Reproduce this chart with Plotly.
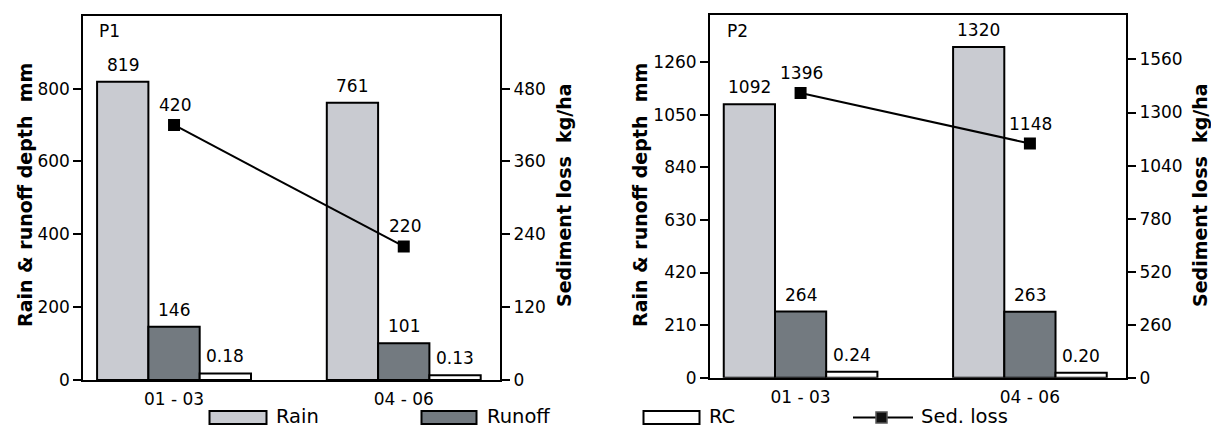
import plotly.graph_objects as go

# ---------------- data ----------------
periods = ["01 - 03", "04 - 06"]
panel_names = ["P1", "P2"]

p1_rain = [819, 761]
p1_runoff = [146, 101]
p1_rc = [0.18, 0.13]
p1_sed = [420, 220]

p2_rain = [1092, 1320]
p2_runoff = [264, 263]
p2_rc = [0.24, 0.20]
p2_sed = [1396, 1148]

p1_left_ticks = [0, 200, 400, 600, 800]
p1_right_ticks = [0, 120, 240, 360, 480]
p2_left_ticks = [0, 210, 420, 630, 840, 1050, 1260]
p2_right_ticks = [0, 260, 520, 780, 1040, 1300, 1560]

legend_names = ["Rain", "Runoff", "RC", "Sed. loss"]
left_title = "Rain & runoff depth\u00a0 mm"
right_title = "Sediment loss\u00a0 kg/ha"

RC_SCALE = 100  # RC drawn on the depth axis as RC x 100

# ---------------- style ----------------
W, H = 1211, 430
FONT = "DejaVu Sans"
C_RAIN = "#C9CBD1"
C_RUNOFF = "#737A80"
C_RC = "#FFFFFF"
BARGAP = 0.33
BW = (1 - BARGAP) / 3


def px(x):
    return x / W


def py(y):
    return 1 - y / H


xs = list(range(len(periods)))

fig = go.Figure()

panels = [
    dict(rain=p1_rain, runoff=p1_runoff, rc=p1_rc, sed=p1_sed,
         xa="x", ya="y", ya2="y2"),
    dict(rain=p2_rain, runoff=p2_runoff, rc=p2_rc, sed=p2_sed,
         xa="x2", ya="y3", ya2="y4"),
]

annotations = []
for p in panels:
    rc_disp = [v * RC_SCALE for v in p["rc"]]
    for vals, col, name in [(p["rain"], C_RAIN, "Rain"),
                            (p["runoff"], C_RUNOFF, "Runoff"),
                            (rc_disp, C_RC, "RC")]:
        fig.add_trace(go.Bar(
            x=xs, y=vals, name=name, xaxis=p["xa"], yaxis=p["ya"],
            marker=dict(color=col, line=dict(color="black", width=2)),
            showlegend=False))
    fig.add_trace(go.Scatter(
        x=xs, y=p["sed"], mode="lines+markers", name="Sed. loss",
        xaxis=p["xa"], yaxis=p["ya2"],
        line=dict(color="black", width=2),
        marker=dict(symbol="square", size=12, color="black"),
        showlegend=False))
    # data labels
    for i in xs:
        for off, val, txt in [(-BW, p["rain"][i], str(p["rain"][i])),
                              (0, p["runoff"][i], str(p["runoff"][i])),
                              (BW, p["rc"][i] * RC_SCALE, f"{p['rc'][i]:.2f}")]:
            annotations.append(dict(
                x=i + off, y=val, xref=p["xa"], yref=p["ya"], text=txt,
                showarrow=False, xanchor="center", yanchor="middle",
                yshift=17,
                font=dict(family=FONT, size=17, color="black")))
        annotations.append(dict(
            x=i, y=p["sed"][i], xref=p["xa"], yref=p["ya2"],
            text=str(p["sed"][i]), showarrow=False, xanchor="center",
            yanchor="middle", yshift=20, xshift=1,
            font=dict(family=FONT, size=17, color="black")))

# panel names
annotations.append(dict(x=px(109), y=py(31.5), xref="paper", yref="paper",
                        text=panel_names[0], showarrow=False,
                        xanchor="center", yanchor="middle",
                        font=dict(family=FONT, size=17, color="black")))
annotations.append(dict(x=px(737), y=py(31), xref="paper", yref="paper",
                        text=panel_names[1], showarrow=False,
                        xanchor="center", yanchor="middle",
                        font=dict(family=FONT, size=17, color="black")))

# axis titles
for xc, txt in [(25, left_title), (564, right_title),
                (640, left_title), (1200, right_title)]:
    annotations.append(dict(x=px(xc), y=py(195), xref="paper", yref="paper",
                            text="<b>" + txt + "</b>", textangle=-90,
                            showarrow=False, xanchor="center",
                            yanchor="middle",
                            font=dict(family=FONT, size=19, color="black")))

# ---------------- manual legend ----------------
shapes = []
LEG_CY = 417.5
leg_y0, leg_y1 = LEG_CY - 6.5, LEG_CY + 6.5
for (x0, x1), col in [((209.5, 266.5), C_RAIN), ((421.5, 476.5), C_RUNOFF),
                      ((643.5, 699.5), C_RC)]:
    shapes.append(dict(type="rect", xref="paper", yref="paper",
                       x0=px(x0), x1=px(x1), y0=py(leg_y1), y1=py(leg_y0),
                       fillcolor=col, line=dict(color="black", width=2)))
shapes.append(dict(type="line", xref="paper", yref="paper",
                   x0=px(853), x1=px(913), y0=py(LEG_CY), y1=py(LEG_CY),
                   line=dict(color="black", width=2)))
shapes.append(dict(type="rect", xref="paper", yref="paper",
                   x0=px(876), x1=px(887), y0=py(LEG_CY + 5.5),
                   y1=py(LEG_CY - 5.5),
                   fillcolor="#111111", line=dict(color="#555555", width=1.5)))
for xt, txt in zip([275, 486, 708, 920], legend_names):
    annotations.append(dict(x=px(xt), y=py(LEG_CY - 1), xref="paper",
                            yref="paper", text=txt, showarrow=False,
                            xanchor="left", yanchor="middle", borderpad=0,
                            font=dict(family=FONT, size=19.5, color="black")))

# ---------------- axes ----------------
axis_common = dict(showline=True, linecolor="black", linewidth=2,
                   showgrid=False, zeroline=False, automargin=False,
                   tickfont=dict(family=FONT, size=17, color="black"))
yaxis_common = dict(axis_common, ticks="outside", ticklen=8, tickwidth=2,
                    tickcolor="black")
xaxis_common = dict(axis_common, ticks="outside", ticklen=3,
                    tickcolor="rgba(0,0,0,0)", mirror=True)

fig.update_layout(
    width=W, height=H,
    margin=dict(l=0, r=0, t=0, b=0, pad=0, autoexpand=False),
    paper_bgcolor="white", plot_bgcolor="white",
    barmode="group", bargap=BARGAP, bargroupgap=0,
    showlegend=False,
    xaxis=dict(xaxis_common, domain=[px(83.3), px(500)], anchor="y",
               range=[-0.395, 1.419], tickvals=xs, ticktext=periods),
    yaxis=dict(yaxis_common, domain=[py(380), py(15.7)], anchor="x",
               range=[0, 1000], tickvals=p1_left_ticks),
    yaxis2=dict(yaxis_common, overlaying="y", side="right", anchor="x",
                range=[0, 600], tickvals=p1_right_ticks),
    xaxis2=dict(xaxis_common, domain=[px(710), px(1126)], anchor="y3",
                range=[-0.395, 1.419], tickvals=xs, ticktext=periods),
    yaxis3=dict(yaxis_common, domain=[py(377.7), py(15)], anchor="x2",
                range=[0, 1448], tickvals=p2_left_ticks),
    yaxis4=dict(yaxis_common, overlaying="y3", side="right", anchor="x2",
                range=[0, 1778], tickvals=p2_right_ticks),
    annotations=annotations,
    shapes=shapes,
)

fig.write_html(
    "out.html",
    config={"displayModeBar": False},
    post_script=(
        "document.documentElement.style.margin='0';"
        "document.documentElement.style.overflow='hidden';"
        "document.body.style.margin='0';"
        "document.body.style.overflow='hidden';"
    ),
)
